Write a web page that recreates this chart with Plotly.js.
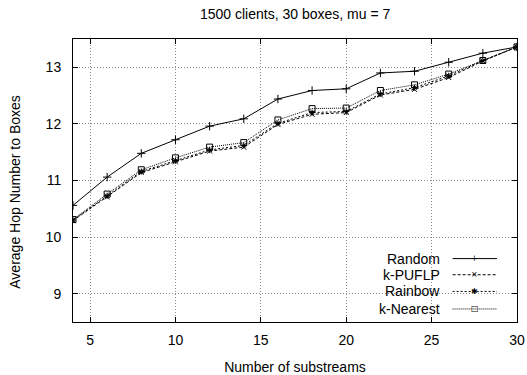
<!DOCTYPE html>
<html>
<head>
<meta charset="utf-8">
<script src="https://cdn.plot.ly/plotly-3.0.1.min.js"></script>
<style>html,body{margin:0;padding:0;background:#fff;}#chart{width:527px;height:375px;}</style>
</head>
<body>
<div id="chart"></div>
<script>
var substreams = [4, 6, 8, 10, 12, 14, 16, 18, 20, 22, 24, 26, 28, 30];
var randomHops   = [10.56, 11.06, 11.48, 11.72, 11.96, 12.09, 12.44, 12.59, 12.62, 12.90, 12.93, 13.09, 13.25, 13.36];
var kpuflpHops   = [10.29, 10.71, 11.14, 11.33, 11.52, 11.59, 11.99, 12.17, 12.20, 12.51, 12.61, 12.82, 13.11, 13.36];
var rainbowHops  = [10.30, 10.73, 11.16, 11.35, 11.54, 11.62, 12.01, 12.20, 12.22, 12.53, 12.64, 12.85, 13.12, 13.36];
var knearestHops = [10.31, 10.76, 11.19, 11.40, 11.59, 11.67, 12.07, 12.27, 12.28, 12.59, 12.69, 12.88, 13.12, 13.36];
var seriesNames = ['Random', 'k-PUFLP', 'Rainbow', 'k-Nearest'];
var xTicks = [5, 10, 15, 20, 25, 30];
var yTicks = [9, 10, 11, 12, 13];

var FONT = 'Liberation Sans, Arial, sans-serif';
var styles = [
  {dash: 'solid', symbol: 'cross-thin-open', size: 6, glyph: '+'},
  {dash: '3px,2px', symbol: 'x-thin-open', size: 5, glyph: '×'},
  {dash: '2px,2px', symbol: 'asterisk-open', size: 5, glyph: '✱'},
  {dash: '1px,1px', symbol: 'square-open', size: 6, glyph: '□'}
];
var allY = [randomHops, kpuflpHops, rainbowHops, knearestHops];

var traces = allY.map(function (ys, i) {
  return {
    x: substreams, y: ys, name: seriesNames[i], type: 'scatter', mode: 'lines+markers',
    line: {color: '#000', width: 1, dash: styles[i].dash},
    marker: {symbol: styles[i].symbol, size: styles[i].size, color: '#000', line: {color: '#000', width: 1}},
    showlegend: false
  };
});

// custom legend (text right-aligned, sample on the right, gnuplot style)
var legY = [0.224, 0.167, 0.108, 0.046];
var shapes = [], annotations = [];
seriesNames.forEach(function (n, i) {
  annotations.push({xref: 'paper', yref: 'paper', x: 0.832, y: legY[i], xanchor: 'right', yanchor: 'middle',
    text: n, showarrow: false, font: {family: FONT, size: 14, color: '#000'}});
  shapes.push({type: 'line', xref: 'paper', yref: 'paper', x0: 0.855, x1: 0.955, y0: legY[i], y1: legY[i],
    line: {color: '#000', width: 1, dash: styles[i].dash}});
  annotations.push({xref: 'paper', yref: 'paper', x: 0.905, y: legY[i], xanchor: 'center', yanchor: 'middle',
    text: styles[i].glyph, showarrow: false, font: {family: 'DejaVu Sans', size: 8, color: '#000'}, bgcolor: 'rgba(0,0,0,0)'});
});
// y-axis title (placed as in the reference, slightly below centre)
annotations.push({xref: 'paper', yref: 'paper', x: -0.1315, y: 0.459, xanchor: 'center', yanchor: 'middle',
  textangle: -90, text: 'Average Hop Number to Boxes', showarrow: false, font: {family: FONT, size: 14, color: '#000'}});

var axisCommon = {
  showline: true, linecolor: '#000', linewidth: 1, mirror: 'ticks',
  ticks: 'inside', ticklen: 5, tickcolor: '#000', tickwidth: 1,
  showgrid: true, gridcolor: '#8c8c8c', griddash: '1px,2px', gridwidth: 1,
  zeroline: false, tickfont: {family: FONT, size: 14, color: '#000'}
};

var layout = {
  width: 527, height: 375,
  margin: {l: 73, r: 10, t: 39, b: 53},
  paper_bgcolor: '#fff', plot_bgcolor: '#fff',
  title: {text: '1500 clients, 30 boxes, mu = 7', font: {family: FONT, size: 14, color: '#000'},
    x: 0.56, xanchor: 'center', y: 0.962, yanchor: 'middle'},
  xaxis: Object.assign({}, axisCommon, {range: [4, 30], tickvals: xTicks, ticklabelstandoff: 5,
    title: {text: 'Number of substreams', font: {family: FONT, size: 14, color: '#000'}, standoff: 16}}),
  yaxis: Object.assign({}, axisCommon, {range: [8.5, 13.5], tickvals: yTicks, ticklabelstandoff: 8}),
  shapes: shapes, annotations: annotations
};

Plotly.newPlot('chart', traces, layout, {displayModeBar: false, staticPlot: true});
</script>
</body>
</html>
